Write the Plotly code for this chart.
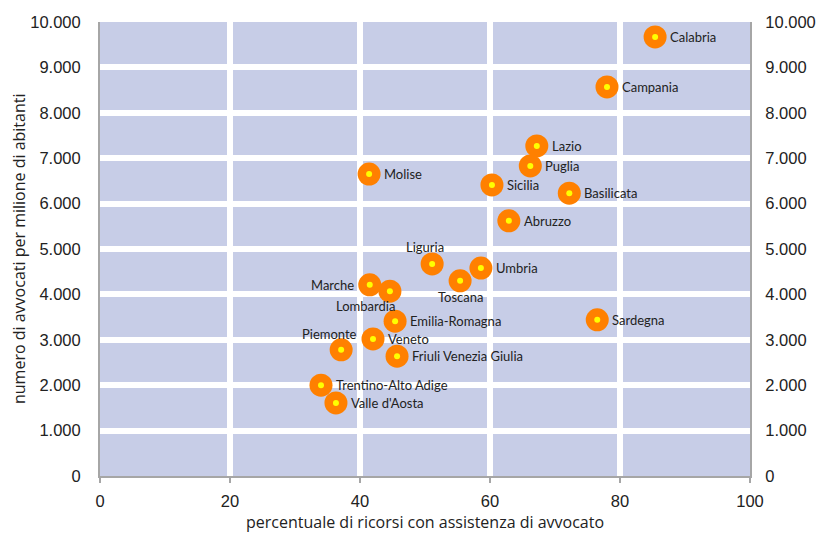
import plotly.graph_objects as go

regioni = ["Calabria", "Campania", "Lazio", "Puglia", "Sicilia", "Basilicata", "Molise",
           "Abruzzo", "Liguria", "Umbria", "Toscana", "Marche", "Lombardia",
           "Emilia-Romagna", "Veneto", "Piemonte", "Friuli Venezia Giulia",
           "Trentino-Alto Adige", "Valle d'Aosta", "Sardegna"]
perc_avvocato = [85.4, 78.0, 67.2, 66.2, 60.3, 72.2, 41.4,
                 62.9, 51.1, 58.6, 55.4, 41.5, 44.6,
                 45.4, 42.0, 37.1, 45.7,
                 34.0, 36.3, 76.5]
avvocati_per_milione = [9670, 8570, 7270, 6830, 6410, 6230, 6650,
                        5620, 4670, 4580, 4300, 4210, 4070,
                        3410, 3020, 2780, 2640,
                        2000, 1610, 3440]

y_ticks = [0, 1000, 2000, 3000, 4000, 5000, 6000, 7000, 8000, 9000, 10000]
x_ticks = [0, 20, 40, 60, 80, 100]

# label placement (style only)
label_pos = {
    "Marche": dict(xanchor="right", yanchor="middle", xshift=-14, yshift=0),
    "Liguria": dict(xanchor="center", yanchor="middle", xshift=-7, yshift=17),
    "Toscana": dict(xanchor="center", yanchor="middle", xshift=0, yshift=-16),
    "Lombardia": dict(xanchor="center", yanchor="middle", xshift=-24, yshift=-15),
    "Piemonte": dict(xanchor="center", yanchor="middle", xshift=-12, yshift=16),
}
default_pos = dict(xanchor="left", yanchor="middle", xshift=13, yshift=0)

LABEL_FONT = "Lato"
TITLE_FONT = "Open Sans"
TICK_FONT = "Liberation Sans"

fig = go.Figure()
fig.add_trace(go.Scatter(x=perc_avvocato, y=avvocati_per_milione, mode="markers",
                         marker=dict(size=23, color="#FF8000", line=dict(width=0)),
                         hoverinfo="text", text=regioni, showlegend=False))
fig.add_trace(go.Scatter(x=perc_avvocato, y=avvocati_per_milione, mode="markers",
                         marker=dict(size=6, color="#FFFF00", line=dict(width=0)),
                         hoverinfo="skip", showlegend=False))
# invisible trace on right axis
fig.add_trace(go.Scatter(x=[perc_avvocato[0]], y=[avvocati_per_milione[0]], yaxis="y2",
                         mode="markers", marker=dict(opacity=0), hoverinfo="skip",
                         showlegend=False))

for r, xv, yv in zip(regioni, perc_avvocato, avvocati_per_milione):
    p = label_pos.get(r, default_pos)
    fig.add_annotation(x=xv, y=yv, text=r, showarrow=False,
                       font=dict(family=LABEL_FONT, size=13, color="#222222"), **p)

title_font = dict(family=TITLE_FONT, size=16, color="#222222")
fig.add_annotation(xref="paper", yref="paper", x=0.5, y=0, yshift=-46,
                   text="percentuale di ricorsi con assistenza di avvocato",
                   showarrow=False, xanchor="center", yanchor="middle", font=title_font)
fig.add_annotation(xref="paper", yref="paper", x=0, y=0.5, xshift=-81,
                   text="numero di avvocati per milione di abitanti", textangle=-90,
                   showarrow=False, xanchor="center", yanchor="middle", font=title_font)

tick_font = dict(family=TICK_FONT, size=16.5, color="#222222")
fig.update_layout(
    width=819, height=534,
    margin=dict(l=100, r=69, t=22, b=58),
    paper_bgcolor="white",
    plot_bgcolor="#C7CDE7",
    separators=",.",
    xaxis=dict(range=[0, 100], tickvals=x_ticks, showgrid=True, gridcolor="white",
               gridwidth=6, zeroline=False, showline=True, linecolor="#A6A6A6",
               linewidth=2, ticks="outside", ticklen=5, tickcolor="#A6A6A6",
               tickwidth=1.5, tickfont=tick_font, ticklabelstandoff=4,
               automargin=False),
    yaxis=dict(range=[0, 10000], tickvals=y_ticks, tickformat=",d", showgrid=True,
               gridcolor="white", gridwidth=6, zeroline=False, showline=True,
               linecolor="#A6A6A6", linewidth=2, ticks="", tickfont=tick_font,
               ticklabelstandoff=14, automargin=False),
    yaxis2=dict(range=[0, 10000], tickvals=y_ticks, tickformat=",d", overlaying="y",
                side="right", showgrid=False, zeroline=False, showline=True,
                linecolor="#A6A6A6", linewidth=2, ticks="", tickfont=tick_font,
                ticklabelstandoff=10, automargin=False),
)

fig.write_html("out.html")
